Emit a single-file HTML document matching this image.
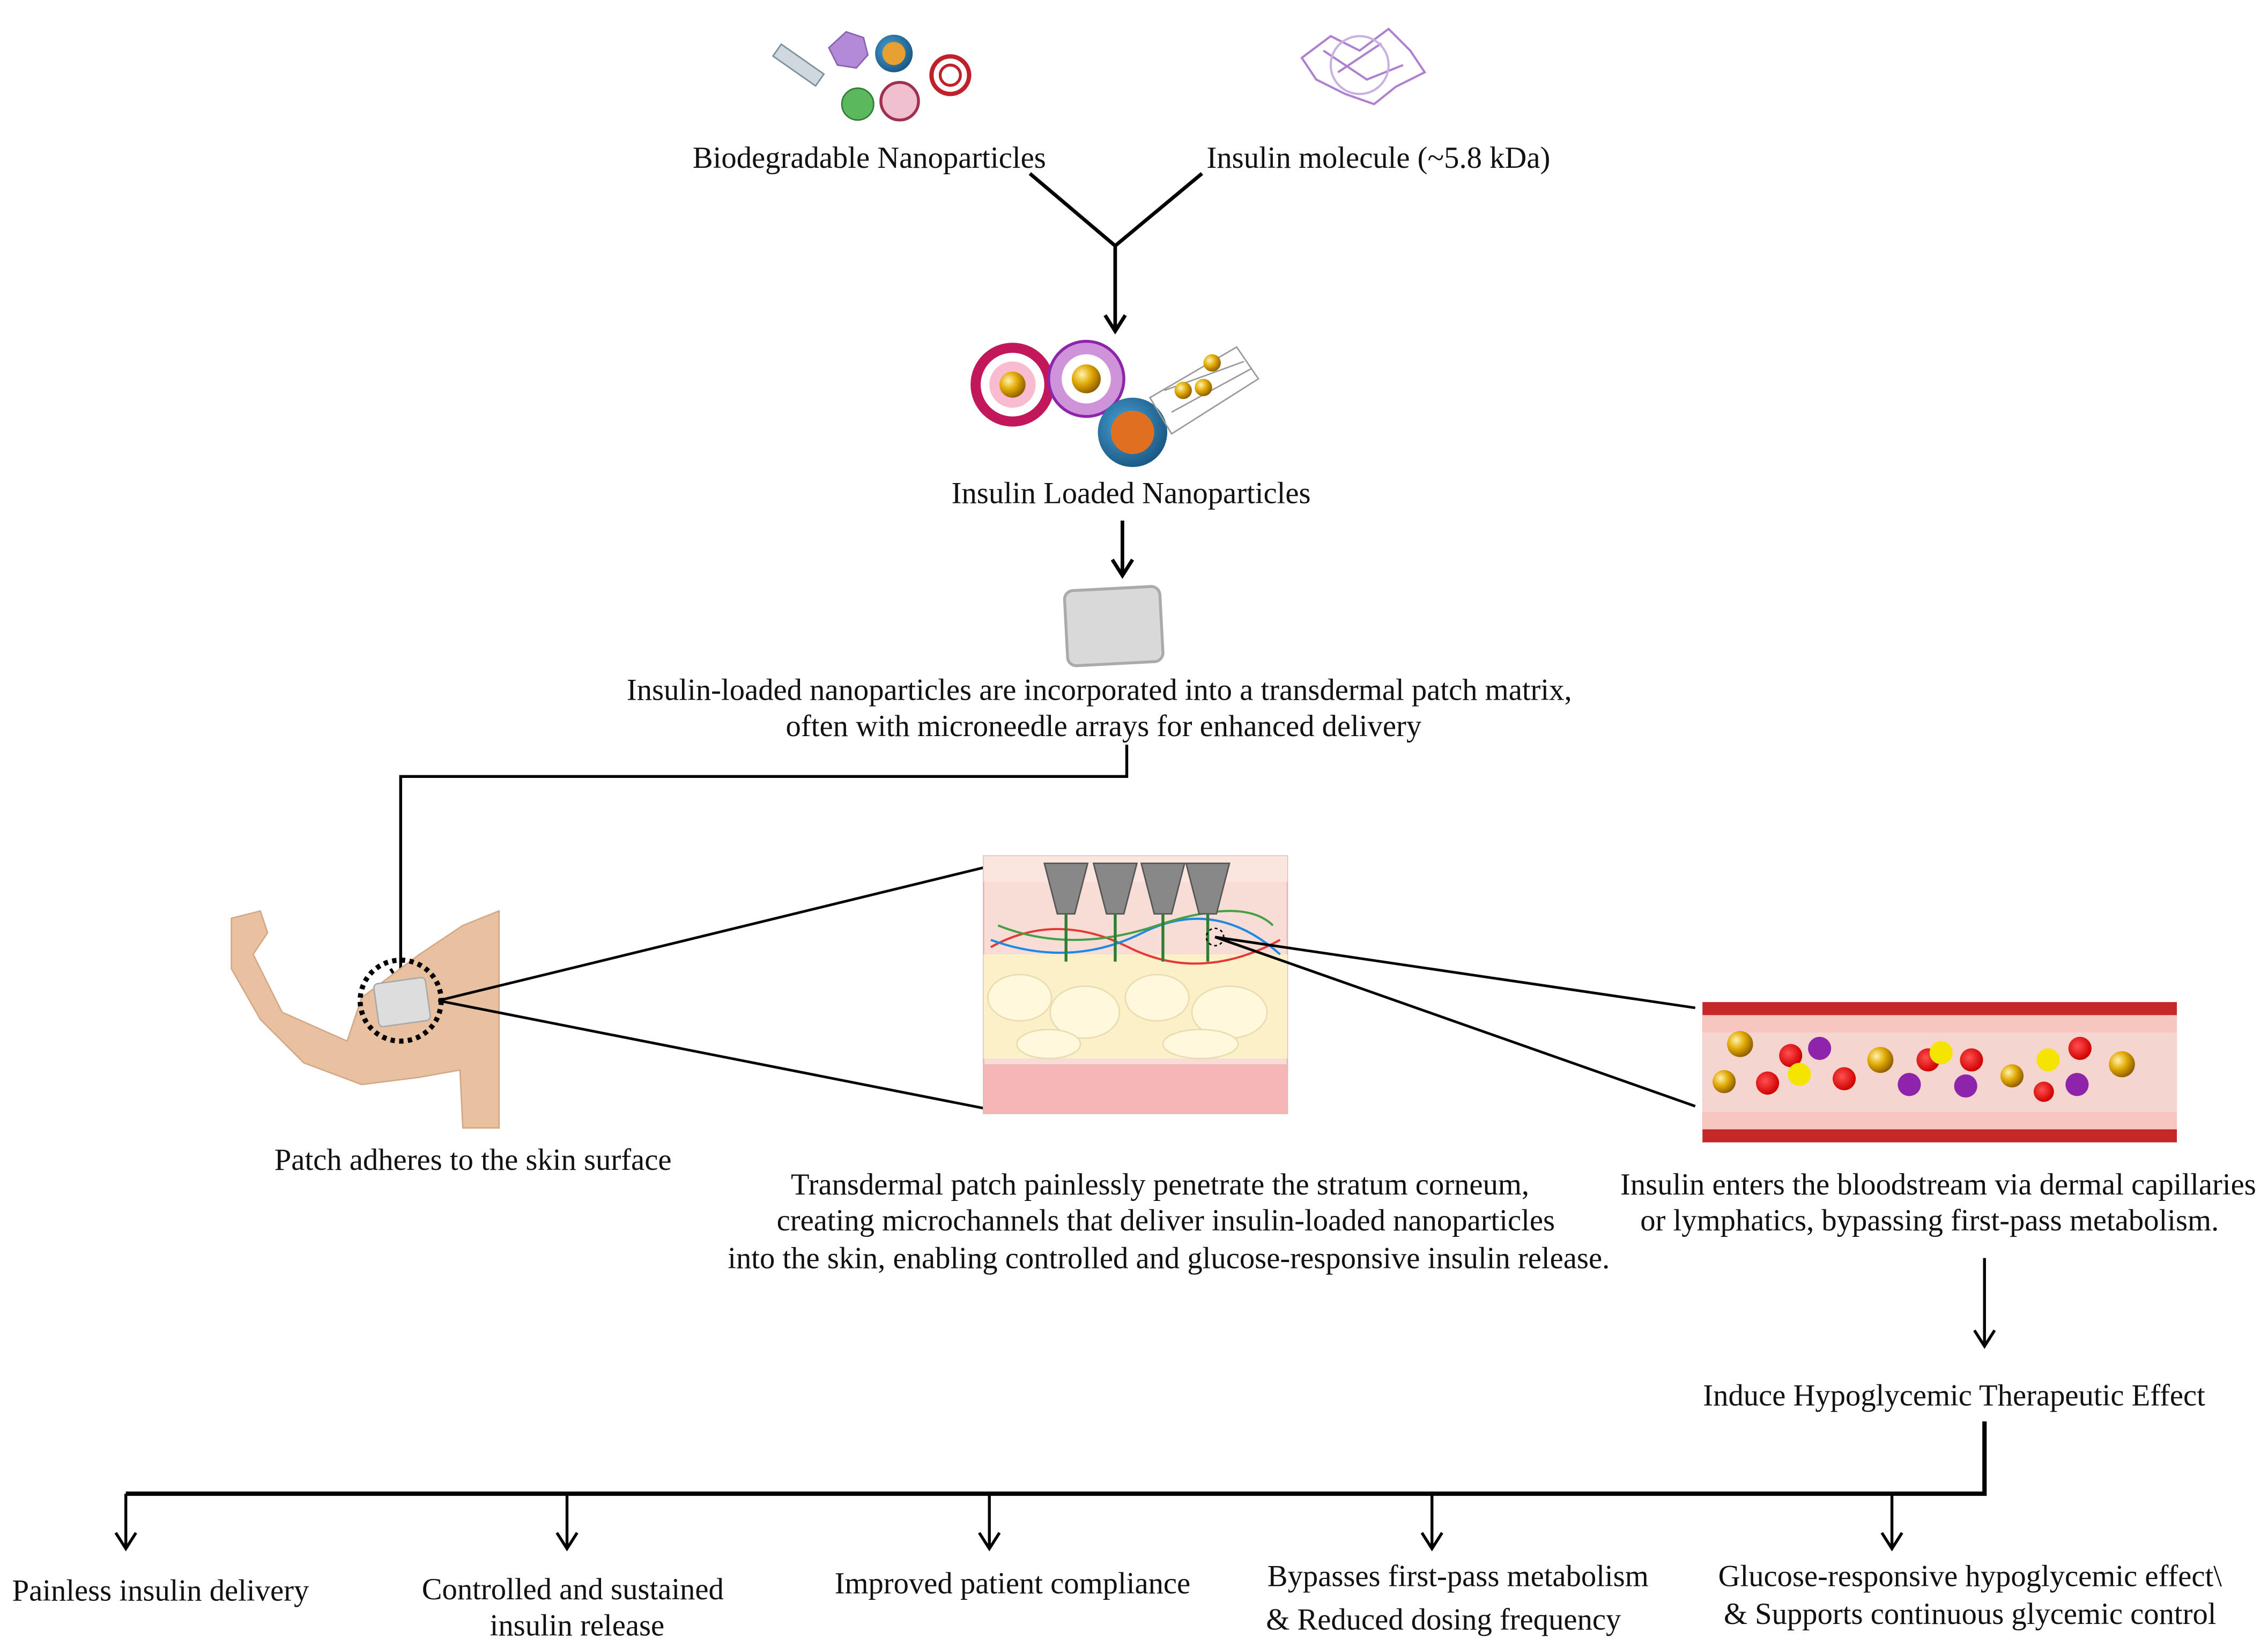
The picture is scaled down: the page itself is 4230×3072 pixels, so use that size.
<!DOCTYPE html>
<html><head><meta charset="utf-8"><style>
html,body{margin:0;padding:0;background:#fff;}
svg{display:block;}
text{font-family:"Liberation Serif",serif;font-size:21px;fill:#111;}
</style></head><body>
<svg width="4230" height="3072" viewBox="0 0 1568 1139" preserveAspectRatio="none" xmlns="http://www.w3.org/2000/svg">
<defs>
<radialGradient id="gold" cx="0.35" cy="0.35" r="0.7"><stop offset="0" stop-color="#fff3b0"/><stop offset="0.5" stop-color="#e0a800"/><stop offset="1" stop-color="#8a5a00"/></radialGradient>
<radialGradient id="blue" cx="0.4" cy="0.4" r="0.7"><stop offset="0" stop-color="#4aa3d8"/><stop offset="1" stop-color="#14507a"/></radialGradient>
<radialGradient id="red" cx="0.4" cy="0.4" r="0.6"><stop offset="0" stop-color="#ff5050"/><stop offset="1" stop-color="#d00000"/></radialGradient>
</defs>

<!-- top nanoparticles -->
<g>
<rect x="534" y="40" width="36" height="10" fill="#cfd8dc" stroke="#78909c" transform="rotate(35 552 45)"/>
<polygon points="585,22 597,26 600,38 592,47 579,45 573,33" fill="#b28ad6" stroke="#8a60b0"/>
<circle cx="618" cy="37" r="13" fill="url(#blue)"/><circle cx="618" cy="37" r="8" fill="#e8a030"/>
<circle cx="593" cy="72" r="11" fill="#5cb85c" stroke="#2e7d32"/>
<circle cx="622" cy="70" r="13" fill="#f0c0d0" stroke="#a03050" stroke-width="2"/>
<circle cx="657" cy="52" r="13" fill="none" stroke="#c0202a" stroke-width="3"/><circle cx="657" cy="52" r="7" fill="none" stroke="#c0202a" stroke-width="2"/>
</g>
<g stroke="#b080d0" stroke-width="1.5" fill="none">
<path d="M900,40 L920,25 L940,35 L960,20 L975,35 L985,50 L965,60 L950,72 L930,65 L910,55 Z M915,35 L945,55 L970,45 M925,50 L955,30"/>
<circle cx="940" cy="45" r="20" stroke="#c8b0e0"/>
</g>
<text x="601" y="116" text-anchor="middle">Biodegradable Nanoparticles</text>
<text x="953" y="116" text-anchor="middle">Insulin molecule (~5.8 kDa)</text>
<g stroke="#000" stroke-width="2.5" fill="none">
<path d="M712,120 L771,170 L831,120"/>
<path d="M771,170 L771,228"/><path d="M764,218 L771,229 L778,218"/>
</g>

<!-- insulin loaded nanoparticles -->
<g>
<circle cx="700" cy="266" r="29" fill="#c2185b"/><circle cx="700" cy="266" r="22" fill="#fff"/><circle cx="700" cy="266" r="16" fill="#f8bbd0"/><circle cx="700" cy="266" r="9" fill="url(#gold)"/>
<circle cx="751" cy="262" r="26" fill="#ce93d8" stroke="#8e24aa" stroke-width="2"/><circle cx="751" cy="262" r="17" fill="#fff"/><circle cx="751" cy="262" r="10" fill="url(#gold)"/>
<circle cx="783" cy="299" r="24" fill="url(#blue)"/><circle cx="783" cy="299" r="15" fill="#e07020"/>
<g stroke="#999" fill="none"><path d="M795,275 L855,240 L870,262 L810,300 Z M805,270 L860,250 M810,285 L865,255"/></g>
<circle cx="818" cy="270" r="6" fill="url(#gold)"/><circle cx="832" cy="268" r="6" fill="url(#gold)"/><circle cx="838" cy="251" r="6" fill="url(#gold)"/>
</g>
<text x="782" y="348" text-anchor="middle">Insulin Loaded Nanoparticles</text>
<g stroke="#000" stroke-width="2.5" fill="none"><path d="M776,360 L776,397"/><path d="M769,387 L776,398 L783,387"/></g>
<rect x="737" y="407" width="66" height="52" rx="6" fill="#d9d9d9" stroke="#aaa" stroke-width="2" transform="rotate(-3 770 433)"/>
<text x="760" y="484" text-anchor="middle">Insulin-loaded nanoparticles are incorporated into a transdermal patch matrix,</text>
<text x="763" y="509" text-anchor="middle">often with microneedle arrays for enhanced delivery</text>
<g stroke="#000" stroke-width="2" fill="none"><path d="M779,515 L779,537 L277,537 L277,680"/><path d="M270,670 L277,681 L284,670"/></g>

<!-- arm -->
<path d="M160,635 L180,630 L185,645 L175,660 L195,700 L240,720 L250,690 L290,660 L320,640 L345,630 L345,780 L320,780 L318,740 L290,745 L250,750 L210,735 L180,705 L160,670 Z" fill="#e8c2a0" stroke="#d4a886"/>
<rect x="260" y="678" width="36" height="30" rx="3" fill="#ddd" stroke="#aaa" transform="rotate(-8 278 693)"/>
<circle cx="277" cy="692" r="28" fill="none" stroke="#000" stroke-width="3.5" stroke-dasharray="3,3"/>
<text x="327" y="809" text-anchor="middle">Patch adheres to the skin surface</text>
<g stroke="#000" stroke-width="1.8"><line x1="303" y1="692" x2="680" y2="600"/><line x1="303" y1="692" x2="683" y2="767"/></g>

<!-- skin -->
<rect x="680" y="592" width="210" height="178" fill="#f8dcd6" stroke="#e0b8b0"/>
<rect x="680" y="592" width="210" height="18" fill="#fbe6df"/>
<rect x="680" y="660" width="210" height="72" fill="#fbf0c8"/>
<g fill="#fff8dc" stroke="#eadcb0"><ellipse cx="705" cy="690" rx="22" ry="16"/><ellipse cx="750" cy="700" rx="24" ry="18"/><ellipse cx="800" cy="690" rx="22" ry="16"/><ellipse cx="850" cy="700" rx="26" ry="18"/><ellipse cx="725" cy="722" rx="22" ry="10"/><ellipse cx="830" cy="722" rx="26" ry="10"/></g>
<rect x="680" y="736" width="210" height="34" fill="#f4b6b6"/>
<g stroke-width="1.5" fill="none"><path d="M685,655 Q730,630 780,655 T885,650" stroke="#e53935"/><path d="M685,650 Q740,670 790,645 T885,660" stroke="#1e88e5"/><path d="M690,640 Q740,660 800,640 T880,640" stroke="#43a047"/></g>
<g fill="#888" stroke="#555">
<polygon points="722,597 752,597 743,632 731,632"/><polygon points="756,597 786,597 777,632 765,632"/><polygon points="789,597 819,597 810,632 798,632"/><polygon points="820,597 850,597 841,632 829,632"/>
</g>
<g stroke="#2e7d32" stroke-width="2"><line x1="737" y1="632" x2="737" y2="665"/><line x1="771" y1="632" x2="771" y2="665"/><line x1="804" y1="632" x2="804" y2="665"/><line x1="835" y1="632" x2="835" y2="665"/></g>
<circle cx="840" cy="648" r="6" fill="none" stroke="#000" stroke-dasharray="2,2"/>
<g stroke="#000" stroke-width="1.8"><line x1="840" y1="648" x2="1172" y2="697"/><line x1="840" y1="648" x2="1172" y2="765"/></g>

<!-- blood vessel -->
<rect x="1177" y="693" width="328" height="97" fill="#c62828"/>
<rect x="1177" y="702" width="328" height="79" fill="#f7c6c0"/>
<rect x="1177" y="714" width="328" height="55" fill="#f5d5d0"/>
<g fill="url(#red)"><circle cx="1238" cy="730" r="8"/><circle cx="1222" cy="749" r="8"/><circle cx="1275" cy="746" r="8"/><circle cx="1333" cy="733" r="8"/><circle cx="1363" cy="733" r="8"/><circle cx="1438" cy="725" r="8"/><circle cx="1413" cy="755" r="7"/></g>
<g fill="#8e24aa"><circle cx="1258" cy="725" r="8"/><circle cx="1320" cy="750" r="8"/><circle cx="1359" cy="751" r="8"/><circle cx="1436" cy="750" r="8"/></g>
<g fill="#f5e400"><circle cx="1244" cy="743" r="8"/><circle cx="1342" cy="728" r="8"/><circle cx="1416" cy="733" r="8"/></g>
<g fill="url(#gold)"><circle cx="1203" cy="722" r="9"/><circle cx="1192" cy="748" r="8"/><circle cx="1300" cy="733" r="9"/><circle cx="1391" cy="744" r="8"/><circle cx="1467" cy="736" r="9"/></g>
<text x="1340" y="826" text-anchor="middle">Insulin enters the bloodstream via dermal capillaries</text>
<text x="1334" y="851" text-anchor="middle">or lymphatics, bypassing first-pass metabolism.</text>
<text x="802" y="826" text-anchor="middle">Transdermal patch painlessly penetrate the stratum corneum,</text>
<text x="806" y="851" text-anchor="middle">creating microchannels that deliver insulin-loaded nanoparticles</text>
<text x="808" y="877" text-anchor="middle">into the skin, enabling controlled and glucose-responsive insulin release.</text>
<g stroke="#000" stroke-width="2" fill="none"><path d="M1372,870 L1372,930"/><path d="M1365,920 L1372,931 L1379,920"/></g>
<text x="1351" y="972" text-anchor="middle">Induce Hypoglycemic Therapeutic Effect</text>
<path d="M1372,983 L1372,1033 L87,1033" stroke="#000" stroke-width="3" fill="none"/>
<g stroke="#000" stroke-width="2" fill="none">
<path d="M87,1033 L87,1070 M80,1060 L87,1071 L94,1060"/>
<path d="M392,1033 L392,1070 M385,1060 L392,1071 L399,1060"/>
<path d="M684,1033 L684,1070 M677,1060 L684,1071 L691,1060"/>
<path d="M990,1033 L990,1070 M983,1060 L990,1071 L997,1060"/>
<path d="M1308,1033 L1308,1070 M1301,1060 L1308,1071 L1315,1060"/>
</g>
<text x="111" y="1107" text-anchor="middle">Painless insulin delivery</text>
<text x="396" y="1106" text-anchor="middle">Controlled and sustained</text>
<text x="399" y="1131" text-anchor="middle">insulin release</text>
<text x="700" y="1102" text-anchor="middle">Improved patient compliance</text>
<text x="1008" y="1097" text-anchor="middle">Bypasses first-pass metabolism</text>
<text x="998" y="1127" text-anchor="middle">&amp; Reduced dosing frequency</text>
<text x="1362" y="1097" text-anchor="middle">Glucose-responsive hypoglycemic effect\</text>
<text x="1362" y="1123" text-anchor="middle">&amp; Supports continuous glycemic control</text>
</svg>
</body></html>
